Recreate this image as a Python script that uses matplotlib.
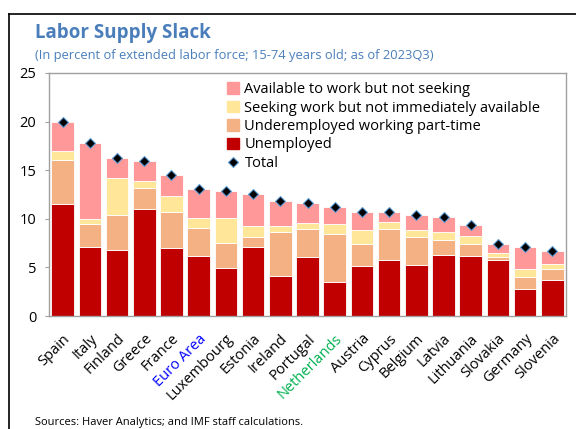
import matplotlib
matplotlib.use("Agg")
import matplotlib.pyplot as plt
from matplotlib.patches import Patch
from matplotlib.lines import Line2D
import numpy as np

plt.rcParams['font.family'] = ['Open Sans', 'DejaVu Sans']

countries = ["Spain", "Italy", "Finland", "Greece", "France", "Euro Area", "Luxembourg",
             "Estonia", "Ireland", "Portugal", "Netherlands", "Austria", "Cyprus",
             "Belgium", "Latvia", "Lithuania", "Slovakia", "Germany", "Slovenia"]
unemployed = [11.5, 7.1, 6.8, 11.0, 7.0, 6.2, 4.9, 7.1, 4.1, 6.1, 3.45, 5.1, 5.8, 5.2, 6.3, 6.2, 5.75, 2.8, 3.75]
underemployed = [4.5, 2.35, 3.6, 2.2, 3.7, 2.85, 2.6, 1.05, 4.5, 2.9, 5.0, 2.3, 3.1, 2.95, 1.5, 1.2, 0.35, 1.25, 1.05]
seeking = [1.0, 0.5, 3.8, 0.7, 1.65, 1.0, 2.55, 1.15, 0.65, 0.6, 1.0, 1.45, 0.8, 0.7, 0.85, 0.85, 0.4, 0.75, 0.55]
available = [3.0, 7.8, 2.1, 2.05, 2.15, 3.05, 2.8, 3.2, 2.55, 2.05, 1.8, 1.8, 1.0, 1.55, 1.5, 1.1, 0.95, 2.25, 1.35]
label_colors = {"Euro Area": "#0000FF", "Netherlands": "#00B050"}

c_unemp = "#C00000"
c_under = "#F4B183"
c_seek = "#FFE699"
c_avail = "#FF9999"
blue_title = "#4A7EBB"

fig = plt.figure(figsize=(5.76, 4.29), dpi=100)
ax = fig.add_axes([49/576, (429-316)/429, (566-49)/576, (316-73)/429])

x = np.arange(len(countries))
w = 0.83
u = np.array(unemployed); ue = np.array(underemployed); s = np.array(seeking); a = np.array(available)
kw = dict(width=w, edgecolor="white", linewidth=0.6)
ax.bar(x, u, color=c_unemp, **kw)
ax.bar(x, ue, bottom=u, color=c_under, **kw)
ax.bar(x, s, bottom=u+ue, color=c_seek, **kw)
ax.bar(x, a, bottom=u+ue+s, color=c_avail, **kw)
total = u + ue + s + a
ax.plot(x, total, linestyle="none", marker="D", markersize=5.5, markerfacecolor="black",
        markeredgecolor="#5B9BD5", markeredgewidth=0.8, zorder=5)

ax.set_xlim(-0.5, len(countries) - 0.5)
ax.set_ylim(0, 25)
ax.set_yticks([0, 5, 10, 15, 20, 25])
ax.tick_params(axis="y", labelsize=10.5, length=3, color="#A0A0A0", pad=6)
ax.tick_params(axis="x", length=0, labelsize=10.5, pad=11)
ax.set_xticks(x)
ax.set_xticklabels(countries, rotation=45, ha="right", rotation_mode="anchor")
for lbl in ax.get_xticklabels():
    lbl.set_color(label_colors.get(lbl.get_text(), "black"))
for sp in ax.spines.values():
    sp.set_color("#A0A0A0")
    sp.set_linewidth(1.0)

handles = [Patch(color=c_avail), Patch(color=c_seek), Patch(color=c_under), Patch(color=c_unemp),
           Line2D([], [], linestyle="none", marker="D", markersize=5, markerfacecolor="black",
                  markeredgecolor="#5B9BD5", markeredgewidth=0.8)]
labels = ["Available to work but not seeking", "Seeking work but not immediately available",
          "Underemployed working part-time", "Unemployed", "Total"]
fig.legend(handles, labels, loc="upper left", bbox_to_anchor=(227/576, 1 - 82/429), frameon=False,
           fontsize=10.5, handlelength=0.8, handleheight=0.8, handletextpad=0.4,
           labelspacing=0.24, borderpad=0, borderaxespad=0)

fig.text(35/576, 1 - 33/429, "Labor Supply Slack", fontsize=13.5, fontweight="bold",
         color=blue_title, va="center", ha="left")
fig.text(35/576, 1 - 55/429, "(In percent of extended labor force; 15-74 years old; as of 2023Q3)",
         fontsize=9.3, color=blue_title, va="center", ha="left")
fig.text(35/576, 1 - 422/429, "Sources: Haver Analytics; and IMF staff calculations.",
         fontsize=8, color="black", va="center", ha="left")

# panel frame
fig.add_artist(Line2D([8.5/576, 1.0], [1 - 13.5/429, 1 - 13.5/429], color="black", linewidth=1.2,
                      transform=fig.transFigure))
fig.add_artist(Line2D([8.5/576, 8.5/576], [0, 1 - 13.5/429], color="black", linewidth=1.2,
                      transform=fig.transFigure))

fig.savefig("out.png", dpi=100)
